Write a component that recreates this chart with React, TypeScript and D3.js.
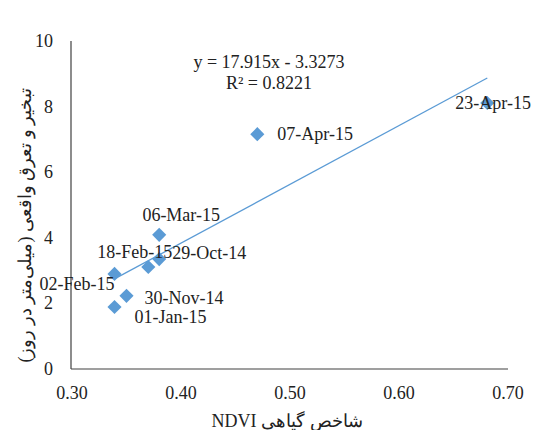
import React from "react";
import * as d3 from "d3";

const dates = ["29-Oct-14", "30-Nov-14", "01-Jan-15", "02-Feb-15", "18-Feb-15", "06-Mar-15", "07-Apr-15", "23-Apr-15"];
const ndvi = [0.38, 0.35, 0.339, 0.339, 0.37, 0.38, 0.47, 0.681];
const et = [3.35, 2.23, 1.89, 2.9, 3.11, 4.09, 7.16, 8.11];
const xTicks = [0.3, 0.4, 0.5, 0.6, 0.7];
const yTicks = [0, 2, 4, 6, 8, 10];
const slope = 17.915;
const intercept = -3.3273;
const equationText = "y = 17.915x - 3.3273";
const r2Text = "R² = 0.8221";
const xTitle = "شاخص گیاهی NDVI";
const yTitle = "تبخیر و تعرق واقعی (میلی‌متر در روز)";

const labelPlacement: Record<string, { dx: number; dy: number; anchor: string }> = {
  "29-Oct-14": { dx: 13, dy: -6, anchor: "start" },
  "30-Nov-14": { dx: 18, dy: 2, anchor: "start" },
  "01-Jan-15": { dx: 20, dy: 10, anchor: "start" },
  "02-Feb-15": { dx: -75, dy: 10, anchor: "start" },
  "18-Feb-15": { dx: -51, dy: -15, anchor: "start" },
  "06-Mar-15": { dx: 22, dy: -20, anchor: "middle" },
  "07-Apr-15": { dx: 20, dy: 0, anchor: "start" },
  "23-Apr-15": { dx: -32, dy: 0, anchor: "start" },
};

const W = 536;
const H = 430;
const FONT = "'Liberation Serif', 'Times New Roman', serif";
const FS = 18;
const BLUE = "#5B9BD5";

export default function App() {
  const x = d3.scaleLinear().domain([0.3, 0.7]).range([72, 508]);
  const y = d3.scaleLinear().domain([0, 10]).range([369, 41]);
  const xMin = d3.min(ndvi) as number;
  const xMax = d3.max(ndvi) as number;
  const line = d3
    .line<number>()
    .x((d) => x(d))
    .y((d) => y(slope * d + intercept));
  const diamond = d3.symbol().type(d3.symbolDiamond2).size(110)() as string;
  const diamond2 = d3.symbol().type(d3.symbolSquare).size(100)() as string;

  return (
    <svg
      width={W}
      height={H}
      style={{ position: "absolute", left: 0, top: 0, background: "#fff" }}
      fontFamily={FONT}
      fontSize={FS}
    >
      <rect width={W} height={H} fill="#fff" />
      {/* axes */}
      <line x1={x(0.3) - 1} x2={x(0.3) - 1} y1={y(10)} y2={y(0)} stroke="#404040" strokeWidth={1.2} />
      <line x1={x(0.3) - 1} x2={x(0.7)} y1={y(0)} y2={y(0)} stroke="#404040" strokeWidth={1.2} />
      {yTicks.map((t) => (
        <text key={"y" + t} x={53} y={y(t)} textAnchor="end" dominantBaseline="central" fill="#222">
          {t}
        </text>
      ))}
      {xTicks.map((t) => (
        <text key={"x" + t} x={x(t)} y={393} textAnchor="middle" dominantBaseline="central" fill="#222">
          {t.toFixed(2)}
        </text>
      ))}
      {/* trendline */}
      <path d={line([xMin, xMax]) as string} fill="none" stroke={BLUE} strokeWidth={1.3} />
      {/* markers */}
      {ndvi.map((v, i) => (
        <path
          key={"m" + i}
          d={diamond2}
          transform={`translate(${x(v)},${y(et[i])}) rotate(45)`}
          fill={BLUE}
        />
      ))}
      {/* labels */}
      {ndvi.map((v, i) => {
        const p = labelPlacement[dates[i]];
        return (
          <text
            key={"l" + i}
            x={x(v) + p.dx}
            y={y(et[i]) + p.dy}
            textAnchor={p.anchor}
            dominantBaseline="central"
            fill="#222"
          >
            {dates[i]}
          </text>
        );
      })}
      {/* equation */}
      <text x={269} y={62} textAnchor="middle" dominantBaseline="central" fill="#222">
        {equationText}
      </text>
      <text x={269} y={83} textAnchor="middle" dominantBaseline="central" fill="#222">
        {r2Text}
      </text>
      {/* titles */}
      <text x={287} y={421} textAnchor="middle" dominantBaseline="central" fill="#222" direction="rtl">
        {xTitle}
      </text>
      <text
        transform={`translate(25,225) rotate(-90)`}
        textAnchor="middle"
        dominantBaseline="central"
        fill="#222"
        direction="rtl"
      >
        {yTitle}
      </text>
    </svg>
  );
}
